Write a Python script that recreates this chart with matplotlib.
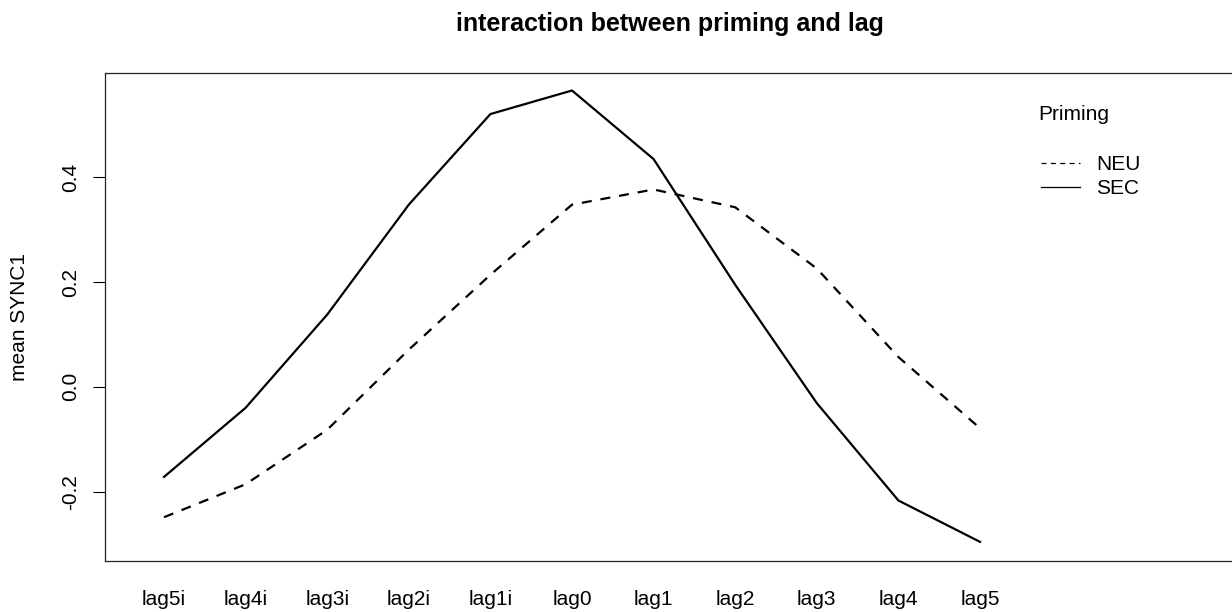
import numpy as np
import matplotlib
matplotlib.use("Agg")
import matplotlib.pyplot as plt
from matplotlib.lines import Line2D

plt.rcParams['font.family'] = ['Liberation Sans', 'DejaVu Sans']

lags = ["lag5i", "lag4i", "lag3i", "lag2i", "lag1i", "lag0",
        "lag1", "lag2", "lag3", "lag4", "lag5"]
sec_vals = [-0.172, -0.040, 0.138, 0.348, 0.521, 0.566,
            0.435, 0.195, -0.031, -0.217, -0.296]
neu_vals = [-0.249, -0.186, -0.082, 0.071, 0.214, 0.348,
            0.377, 0.343, 0.226, 0.057, -0.079]
W, H = 1232, 612


def fx(px):
    return px / W


def fy(py):
    return 1 - py / H


fig = plt.figure(figsize=(12.32, 6.12), dpi=100)
# right edge runs a bit past the figure, like the cropped R device
ax = fig.add_axes([fx(105), fy(560.7), 1135 / W, 488 / H])

x = np.arange(len(lags))
ax.plot(x, neu_vals, color="black", lw=1.6, linestyle=(0, (4.5, 4.0)))
ax.plot(x, sec_vals, color="black", lw=1.6, linestyle="-")

ax.set_xlim(-0.723, -0.723 + 1135 / 81.6)
ax.set_ylim(-0.332, 0.600)

ax.set_xticks(x)
ax.set_xticklabels(lags, fontsize=15)
ax.tick_params(axis="x", length=0, pad=21)
ax.set_yticks([-0.2, 0.0, 0.2, 0.4])
ax.set_yticklabels(["-0.2", "0.0", "0.2", "0.4"], rotation=90, va="center", fontsize=15)
ax.tick_params(axis="y", length=9, width=0.8, pad=9)

for s in ax.spines.values():
    s.set_linewidth(0.9)
    s.set_color("#222222")

fig.text(fx(20), fy(317), "mean SYNC1", rotation=90, ha="center", va="center", fontsize=15)
fig.text(fx(670), fy(24), "interaction between priming and lag",
         ha="center", va="center", fontsize=18, fontweight="bold")

# legend drawn the R way: title, short line samples, labels
fig.text(fx(1038), fy(114), "Priming", ha="left", va="center", fontsize=15)
fig.add_artist(Line2D([fx(1041), fx(1080)], [fy(163), fy(163)], color="black",
                      lw=0.9, linestyle=(0, (4.0, 3.5))))
fig.add_artist(Line2D([fx(1041), fx(1080)], [fy(187), fy(187)], color="black", lw=0.9))
fig.text(fx(1096), fy(165), "NEU", ha="left", va="center", fontsize=15)
fig.text(fx(1096), fy(189), "SEC", ha="left", va="center", fontsize=15)

fig.savefig("out.png", dpi=100)
